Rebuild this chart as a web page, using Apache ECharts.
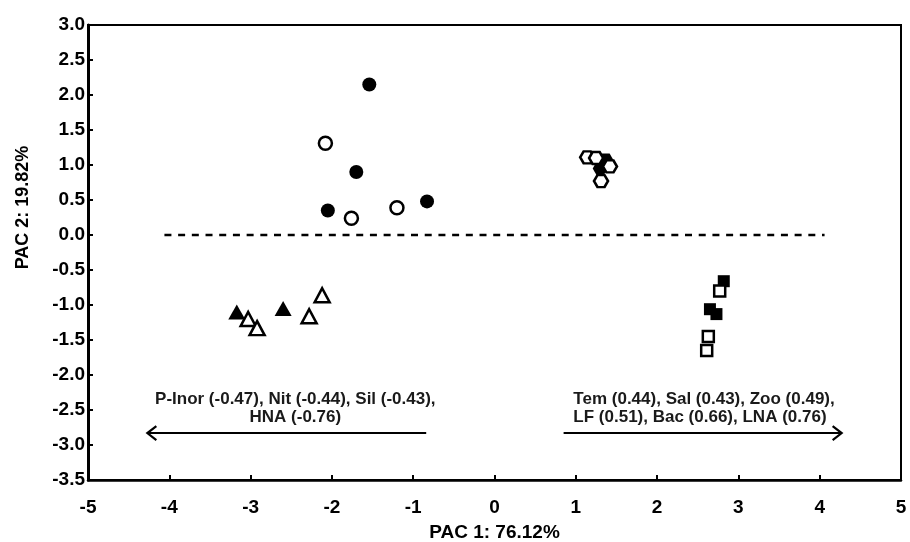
<!DOCTYPE html>
<html>
<head>
<meta charset="utf-8">
<script src="https://cdn.jsdelivr.net/npm/echarts@6/dist/echarts.min.js"></script>
<style>
  html, body { margin: 0; padding: 0; background: #fff; }
  #main { width: 910px; height: 542px; }
</style>
</head>
<body>
<div id="main"></div>
<script>
// 数据：各组样本的 PAC1 / PAC2 得分
const circleFilled = [[-1.54, 2.15], [-1.70, 0.90], [-2.05, 0.35], [-0.83, 0.48]]
const circleOpen = [[-2.08, 1.31], [-1.76, 0.24], [-1.20, 0.39]]
const triFilled = [[-3.17, -1.10], [-2.60, -1.05]]
const triOpen = [[-3.03, -1.20], [-2.92, -1.33], [-2.28, -1.16], [-2.12, -0.86]]
const sqFilled = [[2.82, -0.66], [2.65, -1.06], [2.73, -1.13]]
const sqOpen = [[2.77, -0.80], [2.63, -1.45], [2.61, -1.65]]
const hexFilled = [[1.37, 1.07], [1.30, 0.95]]
const hexOpen = [[1.14, 1.11], [1.25, 1.10], [1.42, 0.98], [1.31, 0.77]]

// 零线和载荷箭头
const zeroLine = [[-4.06, 0], [4.06, 0]]
const arrows = [
  // [起点x, 终点x, y]
  [-0.84, -4.27, -2.83],
  [0.85, 4.27, -2.83]
]
const arrowText = [
  "P-Inor (-0.47), Nit (-0.44), Sil (-0.43),\nHNA (-0.76)",
  "Tem (0.44), Sal (0.43), Zoo (0.49),\nLF (0.51), Bac (0.66), LNA (0.76)"
]
const textPos = [[-2.45, -2.47, "center"], [0.97, -2.47, "left"]]

const hexPath = "path://M-1,0 L-0.5,-0.866 L0.5,-0.866 L1,0 L0.5,0.866 L-0.5,0.866 Z"

const filledStyle = { color: "#000", opacity: 1 }
const openStyle = { color: "#fff", borderColor: "#000", borderWidth: 2.5, opacity: 1 }

function scatter(data, symbol, size, style) {
  return {
    type: "scatter",
    data: data,
    symbol: symbol,
    symbolSize: size,
    itemStyle: style,
    emphasis: { disabled: true },
    z: 5
  }
}

const myChart = echarts.init(document.getElementById("main"))
const option = {
  animation: false,
  grid: {
    left: 88,
    right: 9,
    top: 25,
    bottom: 62,
    outerBoundsMode: "none",
    containLabel: false,
    show: true,
    borderColor: "#000",
    borderWidth: 2
  },
  xAxis: {
    type: "value",
    min: -5,
    max: 5,
    interval: 1,
    name: "PAC 1: 76.12%",
    nameLocation: "middle",
    nameGap: 43,
    nameTextStyle: { fontFamily: "Liberation Sans", fontWeight: "bold", fontSize: 19, color: "#000" },
    axisLine: { show: true, onZero: false, lineStyle: { color: "#000", width: 2.5 } },
    axisTick: { show: true, inside: true, length: 5, lineStyle: { color: "#000", width: 2 } },
    axisLabel: { fontFamily: "Liberation Sans", fontWeight: "bold", fontSize: 19, color: "#000", margin: 18 },
    splitLine: { show: false }
  },
  yAxis: {
    type: "value",
    min: -3.5,
    max: 3,
    interval: 0.5,
    name: "PAC 2: 19.82%",
    nameLocation: "middle",
    nameGap: 56,
    nameTextStyle: {
      fontFamily: "Liberation Sans", fontWeight: "bold", fontSize: 18, color: "#000",
      padding: [0, 0, 0, 90]
    },
    axisLine: { show: true, onZero: false, lineStyle: { color: "#000", width: 3 } },
    axisTick: { show: true, inside: true, length: 5, lineStyle: { color: "#000", width: 2 } },
    axisLabel: {
      fontFamily: "Liberation Sans", fontWeight: "bold", fontSize: 19, color: "#000", margin: 3,
      formatter: function (v) { return v.toFixed(1) }
    },
    splitLine: { show: false }
  },
  series: [
    {
      type: "line",
      data: zeroLine,
      symbol: "none",
      lineStyle: { color: "#000", width: 2.5, type: [7, 6.7] },
      z: 2
    },
    {
      // 箭头 + 文本
      type: "custom",
      data: arrows.map(function (a, i) { return [a[0], a[1], a[2], i] }),
      renderItem: function (params, api) {
        const p0 = api.coord([api.value(0), api.value(2)])
        const p1 = api.coord([api.value(1), api.value(2)])
        const i = api.value(3)
        const dir = p1[0] > p0[0] ? 1 : -1
        const tp = api.coord([textPos[i][0], textPos[i][1]])
        return {
          type: "group",
          children: [
            {
              type: "line",
              shape: { x1: p0[0], y1: p0[1], x2: p1[0], y2: p1[1] },
              style: { stroke: "#000", lineWidth: 2 }
            },
            {
              type: "polyline",
              shape: { points: [[p1[0] - dir * 9, p1[1] - 7], [p1[0], p1[1]], [p1[0] - dir * 9, p1[1] + 7]] },
              style: { stroke: "#000", lineWidth: 2.2, fill: null }
            },
            {
              type: "text",
              x: tp[0],
              y: tp[1],
              style: {
                text: arrowText[i],
                align: textPos[i][2],
                verticalAlign: "middle",
                lineHeight: 18,
                font: "bold 17px 'Liberation Sans'",
                fill: "#1a1a1a"
              }
            }
          ]
        }
      },
      z: 3
    },
    scatter(circleFilled, "circle", 14, filledStyle),
    scatter(circleOpen, "circle", 13, openStyle),
    scatter(triFilled, "triangle", [17, 15], filledStyle),
    scatter(triOpen, "triangle", [15, 14], openStyle),
    scatter(sqFilled, "rect", 12, filledStyle),
    scatter(sqOpen, "rect", 11, openStyle),
    scatter(hexFilled, hexPath, [15, 13], filledStyle),
    scatter(hexOpen, hexPath, [14, 12], openStyle)
  ]
}
myChart.setOption(option)
</script>
</body>
</html>
